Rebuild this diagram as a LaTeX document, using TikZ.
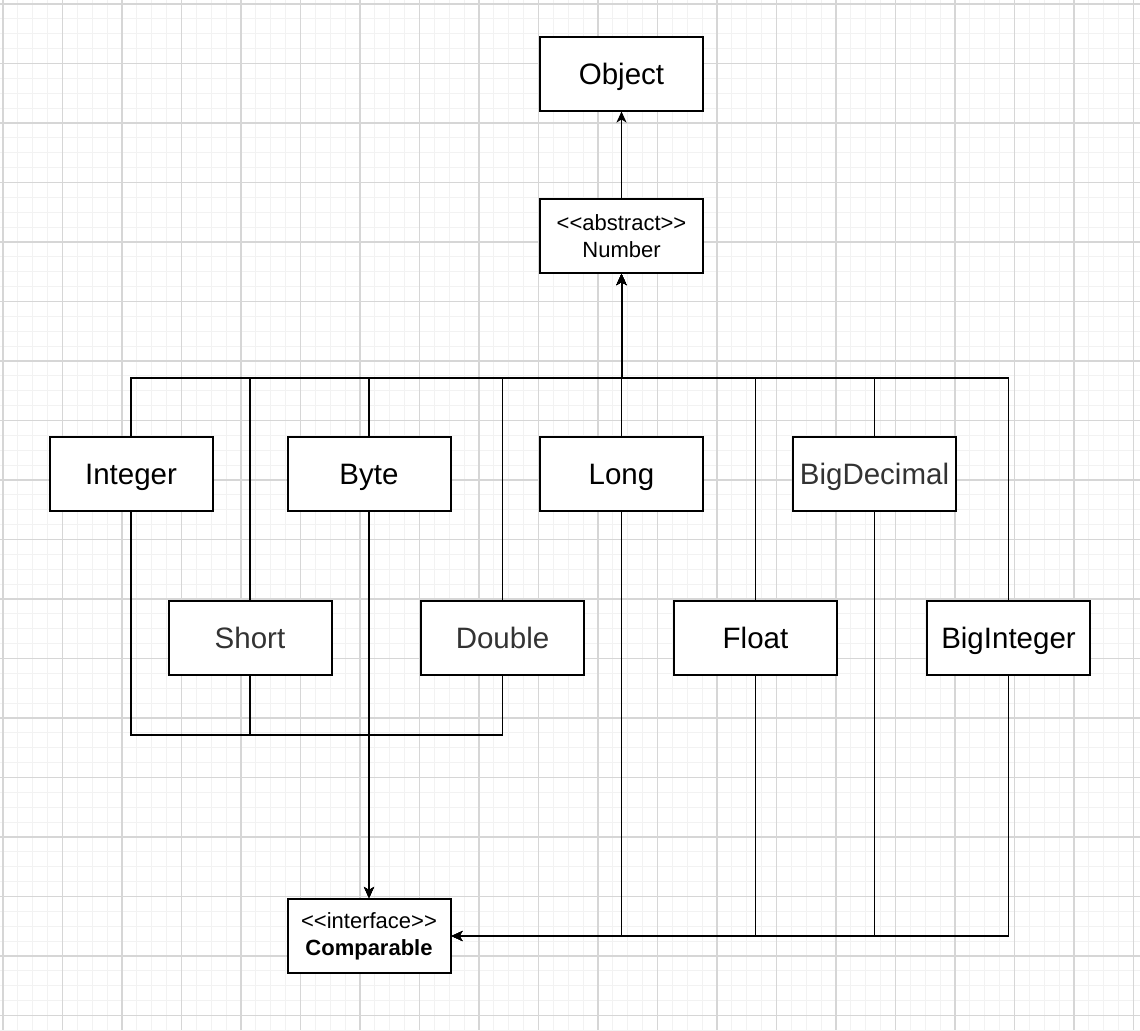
\documentclass[tikz,border=0pt]{standalone}
\usepackage{fontspec}
\setmainfont{Liberation Sans}
\usepackage{tikz}
\usetikzlibrary{arrows.meta,positioning,calc}
\definecolor{gridmajor}{HTML}{D6D6D6}
\definecolor{gridminor}{HTML}{F2F2F2}
\definecolor{softgray}{HTML}{333333}
\newcommand{\stereo}[1]{<\kern0pt<#1>\kern0pt>}

\begin{document}
\begin{tikzpicture}[x=0.5pt, y=-0.5pt,
    cls/.style={rectangle, draw=black, line width=1pt, fill=white, minimum width=81.5pt, minimum height=37pt, inner sep=0pt, text height=10.56pt, text depth=0pt, font=\fontsize{14.75}{17}\selectfont},
    small/.style={rectangle, draw=black, line width=1pt, fill=white, minimum width=81.5pt, minimum height=37pt, inner sep=0pt, font=\fontsize{11}{13.5}\selectfont, align=center},
    faded/.style={text=softgray},
    conn/.style={line width=0.75pt, black},
    arr/.style={conn, -{Stealth[length=5.5pt, width=5pt, inset=1.5pt]}}]

    % Background grid
    \useasboundingbox (0,0) rectangle (1140,1030);
    \fill[white] (0,0) rectangle (1140,1030);
    \foreach \i in {0,...,76} {
        \draw[gridminor, line width=0.5pt] ({3+\i*14.875},0) -- ({3+\i*14.875},1030);
    }
    \foreach \i in {0,...,69} {
        \draw[gridminor, line width=0.5pt] (0,{4+\i*14.875}) -- (1140,{4+\i*14.875});
    }
    \foreach \i in {0,...,19} {
        \draw[gridmajor, line width=0.6pt] ({3+\i*59.5},0) -- ({3+\i*59.5},1030);
    }
    \foreach \i in {0,...,17} {
        \draw[gridmajor, line width=0.6pt] (0,{4+\i*59.5}) -- (1140,{4+\i*59.5});
    }

    % Top of hierarchy
    \node[cls] (object) at (621.5,73.5) {Object};
    \node[small] (number) at (621.5,236) {\stereo{abstract}\\Number};

    % Subclasses, upper row
    \node[cls] (integer) at (131,474) {Integer};
    \node[cls] (byte) at (369,474) {Byte};
    \node[cls] (long) at (621.5,474) {Long};
    \node[cls, faded] (bigdecimal) at (874.5,474) {BigDecimal};

    % Subclasses, lower row
    \node[cls, faded] (short) at (250,638) {Short};
    \node[cls, faded] (double) at (502.5,638) {Double};
    \node[cls] (float) at (755.5,638) {Float};
    \node[cls] (biginteger) at (1008.5,638) {BigInteger};

    % Interface
    \node[small] (comparable) at (369,936) {\stereo{interface}\\\textbf{Comparable}};

    % Junctions
    \coordinate (bus) at (621.5,378);
    \coordinate (lowbus) at (369,735);

    % Inheritance
    \draw[arr] (number) -- (object);
    \foreach \n in {integer,short,byte,double,long,float,bigdecimal,biginteger} {
        \draw[arr] (\n.north) |- (bus) -- (number.south);
    }
    \draw[arr, line width=1pt] (bus) -- (number.south);

    % Comparable
    \foreach \n in {integer,short,double} {
        \draw[arr] (\n.south) |- (lowbus) -- (comparable.north);
    }
    \draw[arr] (byte) -- (comparable);
    \foreach \n in {long,float,bigdecimal,biginteger} {
        \draw[arr] (\n.south) |- (comparable.east);
    }
\end{tikzpicture}
\end{document}
